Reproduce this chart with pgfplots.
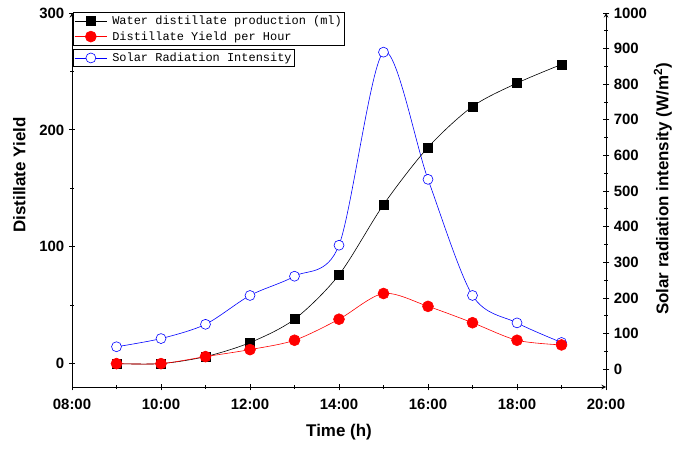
\documentclass[border=0pt]{standalone}
\usepackage{fontspec}
\setmainfont{Liberation Sans}
\newfontfamily\legfont{Liberation Mono}
\usepackage{pgfplots}
\pgfplotsset{compat=1.18}
\begin{document}
\begin{tikzpicture}
\pgfplotsset{
 every axis/.append style={
  scale only axis, width=534bp, height=374bp,
  xmin=8, xmax=20,
  axis line style={-, line width=1pt},
  tick align=outside,
  major tick length=6.5bp, minor tick length=3.5bp,
  every tick/.style={black, line width=0.9pt},
  tick label style={font=\fontsize{15}{15}\selectfont\bfseries},
  /pgf/number format/assume math mode=true,
  /pgf/number format/1000 sep={},
  label style={font=\fontsize{17}{17}\selectfont\bfseries},
  legend cell align=left,
  legend image code/.code={
    \draw[mark repeat=2,mark phase=2] plot coordinates {(0cm,0cm) (0.57cm,0cm) (1.14cm,0cm)};},
  legend style={font=\legfont\fontsize{12}{12}\selectfont, draw=black, line width=0.8pt,
    inner xsep=1pt, inner ysep=1.5pt, row sep=1.5pt, column sep=3bp, rounded corners=0pt},
 }
}
% solar radiation (right axis) drawn first so the red points lie on top
\begin{axis}[
 axis x line=none, axis y line=right,
 ymin=-50, ymax=1000, ytick={0,100,...,1000}, minor y tick num=1,
 yticklabel style={xshift=1bp},
 ylabel={Solar radiation intensity (W/m\textsuperscript{2})},
 ylabel style={font=\fontsize{17}{17}\selectfont\bfseries, xshift=11bp},
 legend style={at={(rel axis cs:0,1)}, anchor=north west, xshift=1bp, yshift=-36bp},
]
\addplot[blue, line width=0.6pt, smooth, mark=*, mark size=5, mark options={fill=white, draw=blue, line width=0.6pt}] coordinates {
(9,63) (10,86) (11,126) (12,207) (13,261) (14,348) (15,890) (16,533) (17,207) (18,130) (19,75)};
\addlegendentry{Solar Radiation Intensity}
\end{axis}
\begin{axis}[
 axis x line=bottom, axis y line=left,
 ymin=-20, ymax=300,
 xtick={8,10,...,20}, minor x tick num=1,
 xticklabels={08:00,10:00,12:00,14:00,16:00,18:00,20:00},
 xticklabel style={yshift=-5bp},
 ytick={0,100,200,300}, minor y tick num=1,
 yticklabel style={xshift=-1bp},
 xlabel={Time (h)}, ylabel={Distillate Yield},
 xlabel style={yshift=-8bp},
 ylabel style={yshift=7bp, xshift=25bp},
 legend style={at={(rel axis cs:0,1)}, anchor=north west, xshift=1bp, yshift=1bp},
]
\addplot[black, line width=0.6pt, smooth, mark=square*, mark size=4.6, mark options={fill=black}] coordinates {
(9,0) (10,0) (11,6) (12,18) (13,38) (14,76) (15,136) (16,185) (17,220) (18,240) (19,256)};
\addlegendentry{Water distillate production (ml)}
\addplot[red, line width=0.6pt, smooth, mark=*, mark size=5.5, mark options={fill=red}] coordinates {
(9,0) (10,0) (11,6) (12,12) (13,20) (14,38) (15,60) (16,49) (17,35) (18,20) (19,16)};
\addlegendentry{Distillate Yield per Hour}
\end{axis}
\pgfresetboundingbox
\path[use as bounding box] (-72bp,-63bp) rectangle (603bp,387bp);
\end{tikzpicture}
\end{document}
